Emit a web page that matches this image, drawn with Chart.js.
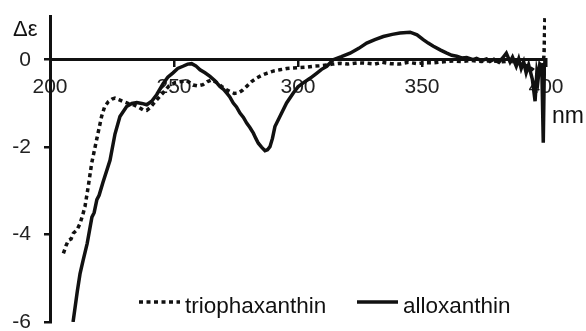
<!DOCTYPE html>
<html>
<head>
<meta charset="utf-8">
<script src="https://cdn.jsdelivr.net/npm/chart.js@4/dist/chart.umd.min.js"></script>
<style>
  html, body { margin: 0; padding: 0; background: #fff; }
  #wrap { width: 586px; height: 331px; position: relative; }
</style>
</head>
<body>
<div id="wrap"><canvas id="myChart" width="586" height="331"></canvas></div>
<script>
// wavelengths (nm) and delta epsilon
const alloWl = [209.3, 211.0, 212.1, 213.3, 215.0, 216.9, 217.8, 218.9, 219.8, 221.4, 224.2, 226.2, 228.2, 230.9, 233.0, 235.0, 237.0, 239.0, 241.0, 243.0, 245.6, 247.5, 249.6, 251.5, 253.6, 255.5, 257.1, 258.8, 260.5, 262.5, 264.5, 266.5, 268.5, 270.0, 271.2, 272.5, 273.9, 275.2, 276.6, 278.0, 279.3, 280.6, 282.0, 283.0, 284.0, 285.3, 286.7, 287.7, 288.7, 289.7, 290.7, 292.7, 295.4, 298.1, 300.0, 302.1, 305.0, 307.5, 309.5, 311.6, 314.2, 317.5, 321.0, 324.5, 327.7, 331.0, 334.4, 338.0, 341.1, 345.2, 348.0, 350.5, 352.5, 354.6, 357.5, 360.0, 362.0, 364.0, 366.0, 368.0, 370.6, 372.0, 374.0, 376.0, 377.4, 379.0, 381.0, 382.5, 384.0, 385.5, 386.5, 388.0, 389.0, 390.0, 391.0, 392.0, 393.0, 394.5, 395.6, 396.3, 396.8, 397.5, 398.3, 398.9, 399.3, 399.6];
const alloDe = [-6.0, -5.3, -4.9, -4.6, -4.2, -3.6, -3.5, -3.2, -3.1, -2.8, -2.3, -1.7, -1.3, -1.07, -1.0, -0.98, -1.0, -1.03, -0.95, -0.8, -0.55, -0.4, -0.3, -0.2, -0.15, -0.1, -0.09, -0.14, -0.23, -0.3, -0.38, -0.48, -0.61, -0.68, -0.76, -0.85, -0.99, -1.08, -1.22, -1.32, -1.45, -1.55, -1.68, -1.8, -1.91, -2.0, -2.08, -2.06, -1.99, -1.8, -1.53, -1.3, -0.99, -0.76, -0.62, -0.53, -0.42, -0.31, -0.22, -0.15, 0.0, 0.07, 0.15, 0.26, 0.38, 0.46, 0.53, 0.58, 0.61, 0.63, 0.57, 0.46, 0.38, 0.31, 0.22, 0.15, 0.1, 0.08, 0.04, 0.05, 0.0, 0.03, -0.02, 0.02, -0.04, 0.01, -0.06, 0.04, 0.15, -0.05, 0.06, -0.15, 0.02, -0.2, -0.05, -0.3, -0.12, -0.45, -0.95, -0.3, -0.46, -0.1, -0.15, -1.9, -0.3, 0.0];

const trioWl = [205.4, 206.5, 207.4, 208.5, 209.4, 210.8, 212.1, 213.2, 214.1, 215.4, 216.8, 218.8, 220.8, 222.0, 223.5, 225.0, 226.2, 228.0, 229.6, 231.5, 233.6, 235.5, 237.6, 239.0, 240.3, 241.8, 243.0, 245.7, 248.0, 250.5, 253.0, 255.2, 257.7, 259.5, 261.7, 263.5, 265.2, 267.2, 269.2, 271.0, 272.6, 274.3, 275.9, 277.6, 279.3, 281.3, 283.3, 285.3, 287.4, 290.0, 292.7, 295.5, 298.1, 300.8, 303.5, 306.0, 308.9, 311.5, 314.0, 317.0, 320.0, 324.0, 327.8, 331.0, 334.0, 337.5, 341.0, 344.5, 348.0, 351.0, 354.6, 358.0, 362.5, 366.0, 370.0, 374.0, 378.0, 382.0, 385.0, 388.0, 390.5, 392.5, 394.8, 396.5, 397.6, 398.5, 399.2, 399.6];
const trioDe = [-4.43, -4.25, -4.13, -4.1, -3.97, -3.9, -3.75, -3.55, -3.36, -2.91, -2.37, -1.83, -1.3, -1.08, -0.96, -0.9, -0.88, -0.92, -0.96, -1.0, -1.03, -1.08, -1.15, -1.16, -1.1, -1.0, -0.92, -0.75, -0.6, -0.52, -0.5, -0.48, -0.58, -0.6, -0.57, -0.5, -0.46, -0.52, -0.61, -0.68, -0.73, -0.77, -0.76, -0.7, -0.61, -0.5, -0.42, -0.36, -0.31, -0.26, -0.23, -0.2, -0.19, -0.18, -0.17, -0.15, -0.14, -0.12, -0.1, -0.08, -0.1, -0.07, -0.08, -0.1, -0.06, -0.09, -0.1, -0.06, -0.09, -0.07, -0.07, -0.05, -0.03, -0.04, -0.02, -0.04, -0.02, -0.05, -0.03, -0.06, -0.1, -0.15, -0.23, -0.32, -0.38, -0.2, 0.1, 1.05];

const xTicks = [200, 250, 300, 350, 400];
const yTicks = [-6, -4, -2, 0];
const seriesNames = ['triophaxanthin', 'alloxanthin'];

const FONT = '"Liberation Sans", Arial, sans-serif';

function pts(xs, ys) {
  return xs.map((x, i) => ({x: x, y: ys[i]}));
}

// legend + axis names drawn on the canvas
const extras = {
  id: 'extras',
  afterDraw(chart) {
    const ctx = chart.ctx;
    ctx.save();
    ctx.fillStyle = '#111';
    ctx.textAlign = 'left';
    ctx.textBaseline = 'alphabetic';
    ctx.font = '22px ' + FONT;
    ctx.fillText('\u0394\u03b5', 13, 36);
    ctx.font = '23px ' + FONT;
    ctx.fillText('nm', 552, 123);

    // legend
    const items = [
      {x0: 139, x1: 180, dash: [4, 3.5], label: seriesNames[0]},
      {x0: 357, x1: 398, dash: [], label: seriesNames[1]}
    ];
    items.forEach(it => {
      ctx.strokeStyle = '#111';
      ctx.lineWidth = 3.5;
      ctx.setLineDash(it.dash);
      ctx.beginPath();
      ctx.moveTo(it.x0, 302);
      ctx.lineTo(it.x1, 302);
      ctx.stroke();
      ctx.setLineDash([]);
      ctx.font = '22.5px ' + FONT;
      ctx.fillText(it.label, it.x1 + 5, 313);
    });
    ctx.restore();
  }
};

const ctx = document.getElementById('myChart').getContext('2d');
const myChart = new Chart(ctx, {
  type: 'line',
  data: {
    datasets: [{
      label: seriesNames[0],
      data: pts(trioWl, trioDe),
      borderColor: '#111',
      borderWidth: 3.5,
      borderDash: [4, 3.5],
      pointRadius: 0,
      fill: false,
      tension: 0
    }, {
      label: seriesNames[1],
      data: pts(alloWl, alloDe),
      borderColor: '#111',
      borderWidth: 3.5,
      pointRadius: 0,
      fill: false,
      tension: 0
    }]
  },
  options: {
    responsive: false,
    animation: false,
    layout: { padding: { top: 16, right: 40, bottom: 9, left: 0 } },
    plugins: { legend: { display: false }, tooltip: { enabled: false } },
    scales: {
      x: {
        type: 'linear',
        min: 200,
        max: 400,
        position: { y: 0 },
        afterFit: s => { s.height = 0; s.paddingLeft = 0; s.paddingRight = 0; },
        afterBuildTicks: s => { s.ticks = xTicks.map(v => ({value: v})); },
        border: { display: true, width: 3, color: '#111' },
        grid: { display: true, drawOnChartArea: false, drawTicks: true, tickLength: 6, lineWidth: 2.5, color: '#111' },
        ticks: { color: '#222', font: { family: FONT, size: 21 }, padding: 9, maxRotation: 0, autoSkip: false }
      },
      y: {
        type: 'linear',
        min: -6,
        max: 1,
        position: 'left',
        afterFit: s => { s.width = 50; s.paddingTop = 0; s.paddingBottom = 0; },
        afterBuildTicks: s => { s.ticks = yTicks.map(v => ({value: v})); },
        border: { display: true, width: 3, color: '#111' },
        grid: { display: true, drawOnChartArea: false, drawTicks: true, tickLength: 6, lineWidth: 2.5, color: '#111' },
        ticks: { color: '#222', font: { family: FONT, size: 21 }, padding: 13 }
      }
    }
  },
  plugins: [extras]
});
</script>
</body>
</html>
